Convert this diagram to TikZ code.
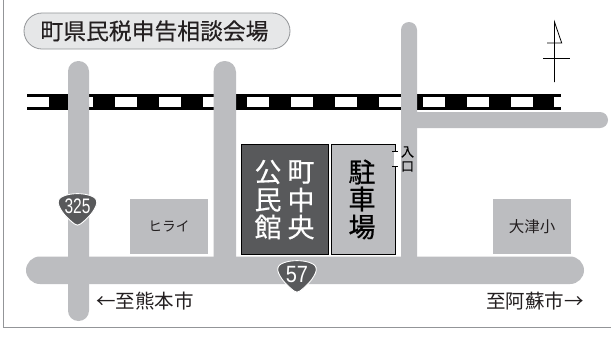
\documentclass[tikz,border=0pt]{standalone}
\usepackage{fontspec}
\setmainfont{Noto Sans CJK JP}
\newfontfamily\cjkmed[FakeBold=0.7]{Noto Sans CJK JP}
\newfontfamily\cjklight[FakeBold=0.3]{Noto Sans CJK JP}
\newfontfamily\numfont{Liberation Sans}
\definecolor{roadgrey}{HTML}{BCBDC0}
\definecolor{darkfill}{HTML}{58595B}
\definecolor{pillfill}{HTML}{E6E7E8}
\definecolor{frameline}{HTML}{939598}
\definecolor{inktext}{HTML}{231F20}
\tikzset{
  x=1pt,y=-1pt,
  road/.style={fill=roadgrey,draw=none},
  landmark/.style={fill=roadgrey,draw=none,minimum width=78pt,minimum height=55pt,inner sep=0pt,text=inktext},
  bigchar/.style={font=\fontsize{27}{27}\selectfont,inner sep=0pt},
  label/.style={font=\fontsize{19.5}{20}\selectfont,text=inktext,inner sep=0pt},
  shieldshape/.style={fill=darkfill,draw=white,line width=0.9pt,line join=round},
  shieldnum/.style={text=white,inner sep=0pt},
  north/.style={line width=0.8pt,draw=black},
}
\newcommand{\shieldpath}[2]{%
  \path[shieldshape,shift={(#1,#2)}]
    (-16,-12) .. controls (-8,-16.5) and (8,-16.5) .. (16,-12)
    .. controls (19.5,-10) and (20,-7) .. (18.5,-3)
    .. controls (15,5) and (8,11) .. (3,15)
    .. controls (1,16.5) and (-1,16.5) .. (-3,15)
    .. controls (-8,11) and (-15,5) .. (-18.5,-3)
    .. controls (-20,-7) and (-19.5,-10) .. (-16,-12) -- cycle;}
\begin{document}
\begin{tikzpicture}
\useasboundingbox (0,0) rectangle (611,338);
\fill[white] (0,0) rectangle (611,338);
% frame
\draw[frameline,line width=1.3pt] (3.7,0) -- (3.7,327.7) -- (611,327.7);
% title
\node[draw=frameline,fill=pillfill,line width=0.8pt,rounded corners=18pt,minimum width=266pt,minimum height=36pt,inner sep=0pt,
  font=\cjklight\fontsize{22.8}{23}\selectfont,text=inktext] (title) at (157,31) {\hspace*{-5pt}町県民税申告相談会場};
% rail
\fill[black] (27,93.5) rectangle (561,110);
\foreach \s in {71,115,159,203,247,291,335,379,423,467,511}
  \fill[white] (\s,96.8) rectangle ({\s+22},107);
\fill[white] (27,96.8) rectangle (49,107);
\fill[white] (554,96.8) rectangle (561,107);
% roads
\path[road,rounded corners=10.4pt] (68,61) rectangle (89,321);
\path[road,rounded corners=11pt] (213.5,61) rectangle (236,270);
\path[road,rounded corners=8pt] (401,22) rectangle (417,270);
\path[road,rounded corners=8pt] (402,112) rectangle (608,128);
\path[road,rounded corners=13.9pt] (26,256.5) rectangle (584,284);
% buildings
\node[draw=black,fill=darkfill,line width=0.8pt,minimum width=87pt,minimum height=110pt,inner sep=0pt] (hall) at (284.5,199) {};
\node[draw=black,fill=roadgrey,line width=0.8pt,minimum width=64pt,minimum height=110pt,inner sep=0pt] (park) at (363,199) {};
\foreach \c/\x/\y/\n in {公/268/172/a,民/268/200/b,館/268/227/c,町/301/172/d,中/301/200/e,央/301/227/f}
  \node[bigchar,text=white] (h\n) at (\x,\y) {\cjklight\c};
\foreach \c/\y/\n in {駐/172/a,車/199/b,場/227/c}
  \node[bigchar,text=black] (p\n) at (362,\y) {\cjkmed\c};
% entrance
\fill[white] (394,151) rectangle (396.5,166);
\draw[black,line width=0.7pt] (392,151) -- (398,151) (392,166) -- (398,166);
\node[font=\cjklight\fontsize{13}{13}\selectfont,text=black,inner sep=0pt] (iri) at (407.5,152) {入};
\node[font=\cjklight\fontsize{13}{13}\selectfont,text=black,inner sep=0pt] (kuchi) at (407.5,166.5) {口};
% landmarks
\node[landmark,font=\fontsize{13.7}{14}\selectfont] (hirai) at (169,226.5) {ヒライ};
\node[landmark,font=\fontsize{15.5}{16}\selectfont] (school) at (532,226.5) {大津小};
% shields
\shieldpath{77.5}{209}
\node[shieldnum,font=\numfont\fontsize{21}{21}\selectfont,xscale=0.74] (r325) at (77.5,206.5) {325};
\shieldpath{297}{276}
\node[shieldnum,font=\numfont\fontsize{23.5}{24}\selectfont,xscale=0.85] (r57) at (297,274.5) {57};
% direction labels
\node[label,anchor=west] (west) at (96,301.5) {←至熊本市};
\node[label,anchor=east] (east) at (584,301.5) {至阿蘇市→};
% north mark
\draw[north,line join=miter] (554.5,82) -- (554.5,22) -- (561.7,43) -- (547,43);
\draw[north] (543,58) -- (570,58);
\end{tikzpicture}
\end{document}
